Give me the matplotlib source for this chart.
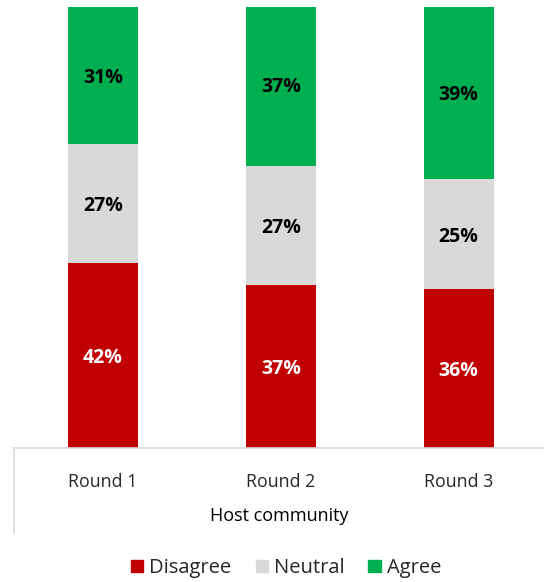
import matplotlib.pyplot as plt
from matplotlib.lines import Line2D
from matplotlib.patches import Patch
import numpy as np

rounds = ['Round 1', 'Round 2', 'Round 3']
disagree = [42, 37, 36]
neutral = [27, 27, 25]
agree = [31, 37, 39]
group_label = 'Host community'

RED = '#C00000'
GREY = '#D9D9D9'
GREEN = '#00B050'

plt.rcParams['font.family'] = ['Open Sans', 'DejaVu Sans']

fig = plt.figure(figsize=(5.44, 5.82), dpi=100)
ax = fig.add_axes([14 / 544, 1 - 448 / 582, 530 / 544, 441 / 582])

x = np.arange(len(rounds))
w = 0.394
d = np.array(disagree)
n = np.array(neutral)
a = np.array(agree)
ax.bar(x, d, w, color=RED, label='Disagree')
ax.bar(x, n, w, bottom=d, color=GREY, label='Neutral')
ax.bar(x, a, w, bottom=d + n, color=GREEN, label='Agree')

for i in range(len(rounds)):
    ax.text(x[i], d[i] / 2, f'{d[i]}%', ha='center', va='center_baseline',
            color='white', fontsize=14, fontweight='bold')
    ax.text(x[i], d[i] + n[i] / 2, f'{n[i]}%', ha='center', va='center_baseline',
            color='black', fontsize=14, fontweight='bold')
    ax.text(x[i], d[i] + n[i] + a[i] / 2, f'{a[i]}%', ha='center', va='center_baseline',
            color='black', fontsize=14, fontweight='bold')

ax.set_xlim(-0.5, 2.48)
ax.set_ylim(0, 100)
ax.set_yticks([])
ax.set_xticks(x)
ax.set_xticklabels(rounds, fontsize=12.8, color='#262626')
ax.tick_params(axis='x', length=0, pad=18)
for s in ['top', 'right', 'left']:
    ax.spines[s].set_visible(False)
ax.spines['bottom'].set_color('#D9D9D9')
ax.spines['bottom'].set_linewidth(1.2)

# group label and left divider below the axis
fig.text(279 / 544, 1 - 516 / 582, group_label, ha='center', va='center',
         fontsize=13, color='black')
fig.add_artist(Line2D([14 / 544, 14 / 544], [1 - 448 / 582, 1 - 533 / 582],
                      color='#D9D9D9', lw=1.2))

handles = [Patch(color=RED), Patch(color=GREY), Patch(color=GREEN)]
fig.legend(handles, ['Disagree', 'Neutral', 'Agree'], loc='center',
           bbox_to_anchor=(286 / 544, 1 - 568 / 582), ncol=3, frameon=False,
           fontsize=14.5, handlelength=0.6, handleheight=0.6, handletextpad=0.3,
           columnspacing=1.2, labelcolor='#262626')

fig.savefig('out.png', dpi=100)
